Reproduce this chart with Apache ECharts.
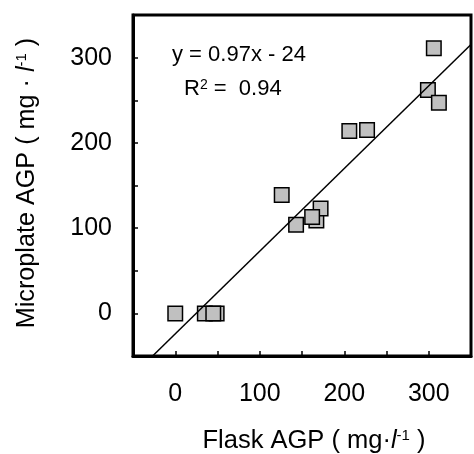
<!DOCTYPE html>
<html>
<head>
<meta charset="utf-8">
<script src="https://cdn.jsdelivr.net/npm/echarts@6/dist/echarts.min.js"></script>
<style>html,body{margin:0;padding:0;background:#fff;}#c{width:474px;height:454px;}</style>
</head>
<body>
<div id="c"></div>
<script>
// Data
var flaskAGP =      [0, 35, 49, 45, 126, 143, 167, 172, 162, 206, 227, 299, 312, 306];
var microplateAGP = [0, 0,  0,  0,  139, 104, 109, 123, 113, 214, 215, 262, 247, 311];
var fitLineX = [-26.8, 350];
var fitLineY = [-50, 315.5];
var xTickLabels = [0, 100, 200, 300];
var yTickLabels = [0, 100, 200, 300];
var eqText = 'y = 0.97x - 24';
var r2Value = '0.94';

var points = flaskAGP.map(function (x, i) { return [x, microplateAGP[i]]; });
var fitLine = fitLineX.map(function (x, i) { return [x, fitLineY[i]]; });

var FONT = '"Liberation Sans", Arial, sans-serif';
function titleRich(size, supSize) {
  return {
    a: {fontSize: size, lineHeight: size, fontFamily: FONT, color: '#000', verticalAlign: 'bottom'},
    i: {fontSize: size, lineHeight: size, fontFamily: FONT, fontStyle: 'italic', color: '#000', verticalAlign: 'bottom'},
    s: {fontSize: supSize, lineHeight: supSize, fontFamily: FONT, color: '#000', verticalAlign: 'top'}
  };
}
var chart = echarts.init(document.getElementById('c'), null, {renderer: 'canvas'});
chart.setOption({
  animation: false,
  backgroundColor: '#fff',
  grid: {left: 133, top: 15, width: 352, height: 341, show: true, borderColor: '#000', borderWidth: 3, backgroundColor: 'transparent'},
  xAxis: {
    type: 'value', min: -50, max: 350, interval: 50,
    axisLine: {show: true, onZero: false, lineStyle: {color: '#000', width: 3}},
    axisTick: {show: true, inside: true, length: 5, lineStyle: {color: '#000', width: 1.5}},
    splitLine: {show: false},
    axisLabel: {
      margin: 26, color: '#000', fontSize: 25, fontFamily: FONT,
      formatter: function (v) { return xTickLabels.indexOf(v) >= 0 ? String(v) : ''; }
    }
  },
  yAxis: {
    type: 'value', min: -50, max: 350, interval: 50,
    axisLine: {show: true, onZero: false, lineStyle: {color: '#000', width: 3}},
    axisTick: {show: true, inside: true, length: 5, lineStyle: {color: '#000', width: 1.5}},
    splitLine: {show: false},
    axisLabel: {
      margin: 21, color: '#000', fontSize: 25, fontFamily: FONT,
      formatter: function (v) { return yTickLabels.indexOf(v) >= 0 ? String(v) : ''; }
    }
  },
  series: [
    {
      type: 'scatter', data: points, symbol: 'rect', symbolSize: 14.5, z: 2,
      itemStyle: {color: '#c0c0c0', borderColor: '#000', borderWidth: 1.5, opacity: 1}
    },
    {
      type: 'line', data: fitLine, showSymbol: false, symbol: 'none', z: 3,
      lineStyle: {color: '#000', width: 1.5}
    }
  ],
  graphic: [
    {
      type: 'text', left: 172, top: 44, z: 10,
      style: {text: eqText, font: '22px ' + FONT, fill: '#000'}
    },
    {
      type: 'text', left: 184, top: 78, z: 10,
      style: {
        text: '{a|R}{s|2}{a| =  ' + r2Value + '}',
        rich: {
          a: {fontSize: 22, lineHeight: 22, fontFamily: FONT, color: '#000', verticalAlign: 'bottom'},
          s: {fontSize: 14, lineHeight: 14, fontFamily: FONT, color: '#000', verticalAlign: 'top'}
        }
      }
    },
    {
      type: 'text', x: 314, y: 441, z: 10,
      style: {
        text: '{a|Flask AGP ( mg·}{i|l}{s|-1}{a| )}',
        align: 'center', verticalAlign: 'middle',
        rich: titleRich(25.5, 15)
      }
    },
    {
      type: 'text', x: 27, y: 183, rotation: Math.PI / 2, z: 10,
      style: {
        text: '{a|Microplate AGP ( mg · }{i|l}{s|-1}{a| )}',
        align: 'center', verticalAlign: 'middle',
        rich: titleRich(25.2, 15)
      }
    }
  ]
});
</script>
</body>
</html>
